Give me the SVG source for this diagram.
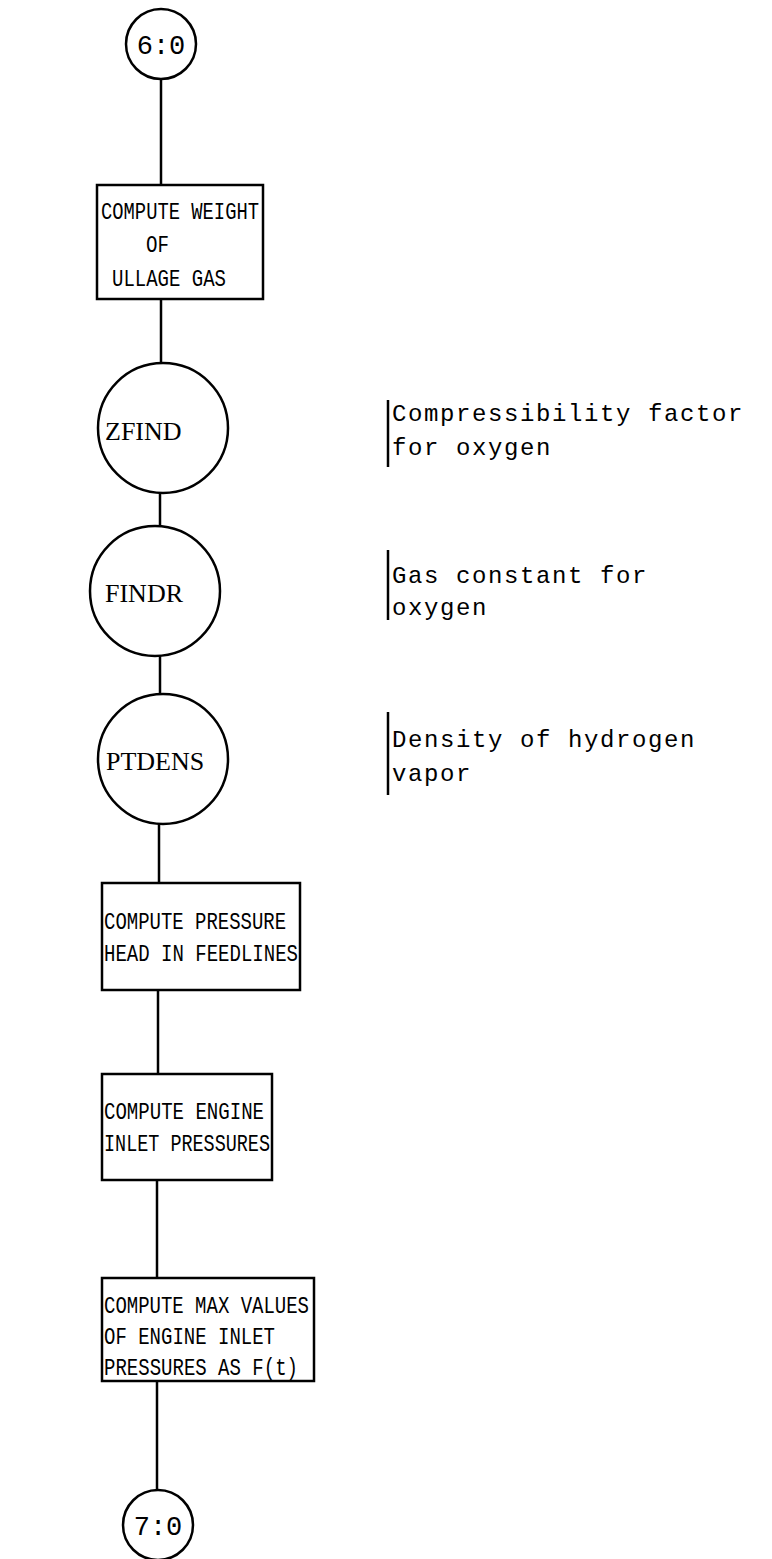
<svg xmlns="http://www.w3.org/2000/svg" width="772" height="1559" viewBox="0 0 772 1559">
<style>
.shape{fill:#fff;stroke:#000;stroke-width:2.5}
.conn line{stroke:#000;stroke-width:2.5}
.bar{stroke:#000;stroke-width:2.5}
.box{font-family:"Liberation Mono",monospace;font-size:24px;fill:#000}
.lbl{font-family:"Liberation Serif",serif;font-size:26px;fill:#000}
.term{font-family:"Liberation Mono",monospace;font-size:27px;fill:#000}
.note{font-family:"Liberation Mono",monospace;font-size:24px;letter-spacing:1.6px;fill:#000}
</style>
<rect width="772" height="1559" fill="#fff"/>
<g id="connectors" class="conn">
<line x1="161" y1="79" x2="161" y2="185"/>
<line x1="161" y1="299" x2="161" y2="363"/>
<line x1="160" y1="493" x2="160" y2="526"/>
<line x1="160" y1="656" x2="160" y2="694"/>
<line x1="159" y1="824" x2="159" y2="883"/>
<line x1="158" y1="990" x2="158" y2="1074"/>
<line x1="157" y1="1180" x2="157" y2="1278"/>
<line x1="157" y1="1381" x2="157" y2="1490"/>
</g>
<g id="n60">
<circle class="shape" cx="161" cy="44" r="35"/>
<text class="term" x="161" y="54" text-anchor="middle">6:0</text>
</g>
<g id="box1">
<rect class="shape" x="97" y="185" width="166" height="114"/>
<text class="box" x="101" y="219" textLength="158" lengthAdjust="spacingAndGlyphs">COMPUTE WEIGHT</text>
<text class="box" x="146" y="252" textLength="23" lengthAdjust="spacingAndGlyphs">OF</text>
<text class="box" x="112" y="286" textLength="114" lengthAdjust="spacingAndGlyphs">ULLAGE GAS</text>
</g>
<g id="zfind">
<circle class="shape" cx="163" cy="428" r="65"/>
<text class="lbl" x="105" y="440">ZFIND</text>
</g>
<g id="findr">
<circle class="shape" cx="155" cy="591" r="65"/>
<text class="lbl" x="105" y="602">FINDR</text>
</g>
<g id="ptdens">
<circle class="shape" cx="163" cy="759" r="65"/>
<text class="lbl" x="106" y="770">PTDENS</text>
</g>
<g id="box2">
<rect class="shape" x="102" y="883" width="198" height="107"/>
<text class="box" x="104" y="929" textLength="182" lengthAdjust="spacingAndGlyphs">COMPUTE PRESSURE</text>
<text class="box" x="104" y="961" textLength="194" lengthAdjust="spacingAndGlyphs">HEAD IN FEEDLINES</text>
</g>
<g id="box3">
<rect class="shape" x="102" y="1074" width="170" height="106"/>
<text class="box" x="104" y="1119" textLength="160" lengthAdjust="spacingAndGlyphs">COMPUTE ENGINE</text>
<text class="box" x="104" y="1151" textLength="166" lengthAdjust="spacingAndGlyphs">INLET PRESSURES</text>
</g>
<g id="box4">
<rect class="shape" x="102" y="1278" width="212" height="103"/>
<text class="box" x="104" y="1313" textLength="205" lengthAdjust="spacingAndGlyphs">COMPUTE MAX VALUES</text>
<text class="box" x="104" y="1344" textLength="171" lengthAdjust="spacingAndGlyphs">OF ENGINE INLET</text>
<text class="box" x="104" y="1375" textLength="194" lengthAdjust="spacingAndGlyphs">PRESSURES AS F(t)</text>
</g>
<g id="n70">
<circle class="shape" cx="158" cy="1525" r="35"/>
<text class="term" x="158" y="1535" text-anchor="middle">7:0</text>
</g>
<g id="note1">
<line class="bar" x1="388" y1="400" x2="388" y2="467"/>
<text class="note" x="392" y="421">Compressibility factor</text>
<text class="note" x="392" y="455">for oxygen</text>
</g>
<g id="note2">
<line class="bar" x1="388" y1="550" x2="388" y2="620"/>
<text class="note" x="392" y="583">Gas constant for</text>
<text class="note" x="392" y="615">oxygen</text>
</g>
<g id="note3">
<line class="bar" x1="388" y1="712" x2="388" y2="795"/>
<text class="note" x="392" y="747">Density of hydrogen</text>
<text class="note" x="392" y="781">vapor</text>
</g>
</svg>
